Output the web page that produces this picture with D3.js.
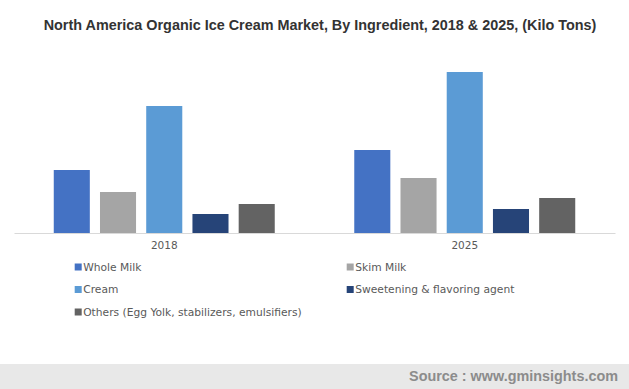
<!DOCTYPE html>
<html>
<head>
<meta charset="utf-8">
<script src="https://cdn.jsdelivr.net/npm/d3@7"></script>
<style>
  html, body { margin: 0; padding: 0; background: #fff; }
  svg { display: block; }
</style>
</head>
<body>
<svg id="chart" width="629" height="389"></svg>
<script>
const years = ["2018", "2025"];
const series = ["Whole Milk", "Skim Milk", "Cream", "Sweetening & flavoring agent", "Others (Egg Yolk, stabilizers, emulsifiers)"];
const colors = ["#4472C4", "#A5A5A5", "#5B9BD5", "#264478", "#636363"];
const values2018 = [6.3, 4.1, 12.7, 1.9, 2.9];
const values2025 = [8.3, 5.5, 16.1, 2.4, 3.5];
const valuesByYear = [values2018, values2025];

const svg = d3.select("#chart");
const W = 629, H = 389;

// Title
svg.append("text")
  .attr("x", 320).attr("y", 30)
  .attr("text-anchor", "middle")
  .style("font-family", "'Liberation Sans', Arial, sans-serif")
  .style("font-weight", "bold")
  .style("font-size", "14.4px")
  .style("fill", "#333333")
  .text("North America Organic Ice Cream Market, By Ingredient, 2018 & 2025, (Kilo Tons)");

const baseY = 233;
const x0 = d3.scaleBand().domain(years).range([14, 615]).padding(0);
const x1 = d3.scaleBand().domain(series).range([0, x0.bandwidth()]).paddingInner(0.22).paddingOuter(0.86);
const y = d3.scaleLinear().domain([0, 18]).range([baseY, baseY - 180]);

const groups = svg.append("g").selectAll("g")
  .data(years.map((yr, i) => ({ yr, vals: valuesByYear[i] })))
  .join("g")
  .attr("transform", d => `translate(${x0(d.yr)},0)`);

groups.selectAll("rect")
  .data(d => d.vals.map((v, j) => ({ s: series[j], v, c: colors[j] })))
  .join("rect")
  .attr("x", d => x1(d.s))
  .attr("width", x1.bandwidth())
  .attr("y", d => y(d.v))
  .attr("height", d => y(0) - y(d.v))
  .attr("fill", d => d.c);

// Axis
const xAxis = d3.axisBottom(x0).tickSize(0).tickPadding(9);
const ax = svg.append("g").attr("transform", `translate(0,${baseY})`).call(xAxis);
ax.select(".domain").attr("stroke", "#D9D9D9").attr("stroke-width", 1.2);
ax.selectAll("text")
  .style("font-family", "'DejaVu Sans', Verdana, sans-serif")
  .style("font-size", "10.5px")
  .style("fill", "#595959");

// Legend
const legendPos = [
  [74.7, 267], [346.7, 267],
  [74.7, 289.5], [346.7, 289.5],
  [74.7, 312]
];
const leg = svg.append("g").selectAll("g")
  .data(series.map((s, i) => ({ s, c: colors[i], p: legendPos[i] })))
  .join("g")
  .attr("transform", d => `translate(${d.p[0]},${d.p[1]})`);
leg.append("rect").attr("x", 0).attr("y", -3.5).attr("width", 7).attr("height", 7).attr("fill", d => d.c);
leg.append("text")
  .attr("x", 8.5).attr("y", 0).attr("dy", "0.35em")
  .style("font-family", "'DejaVu Sans', Verdana, sans-serif")
  .style("font-size", "10.7px")
  .style("fill", "#595959")
  .text(d => d.s);

// Footer
svg.append("rect").attr("x", 0).attr("y", 364).attr("width", W).attr("height", H - 364).attr("fill", "#E8E8E8");
svg.append("text")
  .attr("x", 618).attr("y", 381)
  .attr("text-anchor", "end")
  .style("font-family", "'Liberation Sans', Arial, sans-serif")
  .style("font-weight", "bold")
  .style("font-size", "14.4px")
  .style("fill", "#8C8C8C")
  .text("Source : www.gminsights.com");
</script>
</body>
</html>
